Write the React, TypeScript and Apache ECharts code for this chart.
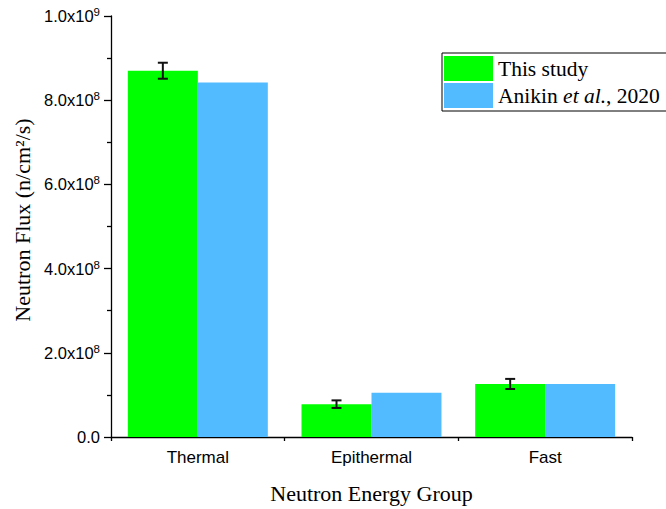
import React, { useEffect, useRef } from "react";
import * as echarts from "echarts";

const categories = ["Thermal", "Epithermal", "Fast"];
const thisStudy = [8.7e8, 7.8e7, 1.26e8];
const thisStudyErr = [1.9e7, 9e6, 1.2e7];
const anikin = [8.42e8, 1.05e8, 1.26e8];
const seriesNames = ["This study", "Anikin et al., 2020"];

const CAT_GAP = 0.194;

export default function App() {
  const ref = useRef<HTMLDivElement>(null);
  useEffect(() => {
    const chart = echarts.init(ref.current!, null, { renderer: "svg" });
    const serif = "'Liberation Serif', 'Times New Roman', serif";
    const sans = "'Liberation Sans', Arial, sans-serif";
    const errData = categories.map((_, i) => [i, thisStudy[i], thisStudyErr[i]]);
    chart.setOption({
      animation: false,
      backgroundColor: "#fff",
      grid: { left: 111, top: 16, right: 34, bottom: 72 },
      legend: {
        left: 442,
        top: 53,
        orient: "vertical",
        itemWidth: 49,
        itemHeight: 25,
        itemGap: 2,
        padding: [3, 40, 3, 2],
        borderColor: "#000",
        borderWidth: 1,
        icon: "rect",
        data: seriesNames,
        formatter: (name: string) =>
          name === seriesNames[1] ? "{n|Anikin }{i|et al.}{n|, 2020}" : "{n|" + name + "}",
        textStyle: {
          rich: {
            n: { fontFamily: serif, fontSize: 21.5, color: "#000" },
            i: { fontFamily: serif, fontSize: 21.5, color: "#000", fontStyle: "italic" },
          },
        },
      },
      xAxis: [
        {
          type: "category",
          data: categories,
          position: "bottom",
          axisLine: { lineStyle: { color: "#000", width: 1.3 } },
          axisTick: { alignWithLabel: true, length: 6, lineStyle: { color: "#000", width: 1.3 } },
          axisLabel: { color: "#000", fontFamily: sans, fontSize: 17, margin: 12 },
          name: "Neutron Energy Group",
          nameLocation: "middle",
          nameGap: 45,
          nameTextStyle: { fontFamily: serif, fontSize: 22, color: "#000" },
        },
        {
          type: "category",
          data: categories,
          position: "bottom",
          axisLine: { show: false },
          axisTick: { show: true, length: 4, lineStyle: { color: "#000", width: 1.3 } },
          axisLabel: { show: false },
        },
      ],
      yAxis: {
        type: "value",
        min: 0,
        max: 1e9,
        interval: 2e8,
        splitLine: { show: false },
        axisLine: { show: true, lineStyle: { color: "#000", width: 1.3 } },
        axisTick: { show: true, length: 7, lineStyle: { color: "#000", width: 1.3 } },
        minorTick: { show: true, splitNumber: 2, length: 4, lineStyle: { color: "#000", width: 1.3 } },
        axisLabel: {
          margin: 11,
          formatter: (v: number) => {
            if (v === 0) return "{b|0.0}";
            const exp = Math.floor(Math.log10(v) + 1e-9);
            const m = v / Math.pow(10, exp);
            return "{b|" + m.toFixed(1) + "x10}{s|" + exp + "}";
          },
          rich: {
            b: { fontFamily: sans, fontSize: 16.5, color: "#000" },
            s: { fontFamily: sans, fontSize: 11.5, color: "#000", verticalAlign: "top", padding: [0, 0, 8, 0] },
          },
        },
      },
      graphic: [
        {
          type: "text",
          x: 22,
          y: 220,
          rotation: Math.PI / 2,
          style: {
            text: "Neutron Flux (n/cm²/s)",
            font: "22px " + serif,
            fill: "#000",
            textAlign: "center",
            textVerticalAlign: "middle",
          },
        },
      ],
      series: [
        {
          name: seriesNames[0],
          type: "bar",
          data: thisStudy,
          barGap: "0%",
          barCategoryGap: CAT_GAP * 100 + "%",
          itemStyle: { color: "#00FF00" },
        },
        {
          name: seriesNames[1],
          type: "bar",
          data: anikin,
          barGap: "0%",
          barCategoryGap: CAT_GAP * 100 + "%",
          itemStyle: { color: "#52BBFF" },
        },
        {
          type: "custom",
          data: errData,
          encode: { x: 0, y: 1 },
          z: 10,
          renderItem: (params: any, api: any) => {
            const x = api.value(0);
            const v = api.value(1);
            const e = api.value(2);
            const top = api.coord([x, v + e]);
            const bot = api.coord([x, v - e]);
            const w = api.size([1, 0])[0];
            const cx = top[0] - (w * (1 - CAT_GAP)) / 4;
            const hw = 5;
            const style = { stroke: "#111", lineWidth: 2 };
            return {
              type: "group",
              children: [
                { type: "line", shape: { x1: cx, y1: top[1], x2: cx, y2: bot[1] }, style },
                { type: "line", shape: { x1: cx - hw, y1: top[1], x2: cx + hw, y2: top[1] }, style },
                { type: "line", shape: { x1: cx - hw, y1: bot[1], x2: cx + hw, y2: bot[1] }, style },
              ],
            };
          },
        },
      ],
    });
    return () => chart.dispose();
  }, []);
  return <div ref={ref} style={{ width: 666, height: 509, position: "absolute", left: 0, top: 0 }} />;
}
